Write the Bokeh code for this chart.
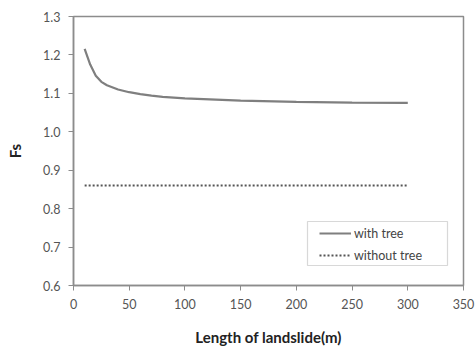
from bokeh.plotting import figure
from bokeh.models import Legend, LegendItem, FixedTicker, Range1d, BoxAnnotation, CustomJSTickFormatter
from bokeh.embed import file_html
from bokeh.resources import INLINE

# data
length_m = [10, 15, 20, 25, 30, 40, 50, 60, 70, 80, 100, 150, 200, 250, 300]
fs_with_tree = [1.216, 1.175, 1.146, 1.130, 1.121, 1.110, 1.103, 1.098, 1.094, 1.091,
                1.087, 1.081, 1.078, 1.076, 1.075]
length_no_tree = [10, 300]
fs_without_tree = [0.86, 0.86]
x_ticks = [0, 50, 100, 150, 200, 250, 300, 350]
y_ticks = [0.6, 0.7, 0.8, 0.9, 1.0, 1.1, 1.2, 1.3]

FONT = "Lato"

p = figure(width=475, height=348, output_backend="svg", toolbar_location=None,
           x_range=Range1d(0, 350), y_range=Range1d(0.6, 1.3))
p.min_border_left = 73
p.min_border_right = 12
p.min_border_top = 16
p.min_border_bottom = 61
p.background_fill_color = "white"
p.border_fill_color = "white"
p.outline_line_color = "#8c8c8c"
p.outline_line_width = 1.5
p.xgrid.visible = False
p.ygrid.visible = False

for ax in (p.xaxis[0], p.yaxis[0]):
    ax.axis_line_color = "#8c8c8c"
    ax.axis_line_width = 1.5
    ax.major_tick_line_color = "#8c8c8c"
    ax.major_tick_in = 0
    ax.major_tick_out = 5
    ax.minor_tick_line_color = None
    ax.major_label_text_font = FONT
    ax.major_label_text_font_size = "12.5px"
    ax.major_label_text_color = "#555555"
    ax.axis_label_text_font = FONT
    ax.axis_label_text_font_style = "bold"
    ax.axis_label_text_font_size = "15px"
    ax.axis_label_text_color = "#222222"

p.xaxis.ticker = FixedTicker(ticks=x_ticks)
p.yaxis.ticker = FixedTicker(ticks=y_ticks)
p.yaxis.formatter = CustomJSTickFormatter(code="return tick.toFixed(1);")
p.xaxis.axis_label = "Length of landslide(m)"
p.yaxis.axis_label = "Fs"
p.xaxis.major_label_standoff = 8
p.yaxis.major_label_standoff = 8
p.xaxis.axis_label_standoff = 16
p.yaxis.axis_label_standoff = 16

r1 = p.line(length_m, fs_with_tree, line_color="#7f7f7f", line_width=2.2)
r2 = p.line(length_no_tree, fs_without_tree, line_color="#555555", line_width=2,
            line_dash="2 2")

# legend frame
frame = BoxAnnotation(left=234, right=374, bottom=20, top=64,
                      left_units="screen", right_units="screen",
                      bottom_units="screen", top_units="screen",
                      fill_color="white", fill_alpha=1,
                      line_color="#7f7f7f", line_width=1.2)
p.add_layout(frame)

legend = Legend(items=[LegendItem(label="with tree", renderers=[r1]),
                       LegendItem(label="without tree", renderers=[r2])],
                location=(246, 21))
legend.border_line_color = None
legend.background_fill_alpha = 0
legend.padding = 4
legend.margin = 0
legend.glyph_width = 32
legend.glyph_height = 18
legend.label_height = 18
legend.label_standoff = 3
legend.spacing = 4
legend.label_text_font = FONT
legend.label_text_font_size = "12.5px"
legend.label_text_color = "#444444"
p.add_layout(legend)

open("out.html", "w").write(file_html(p, INLINE))
